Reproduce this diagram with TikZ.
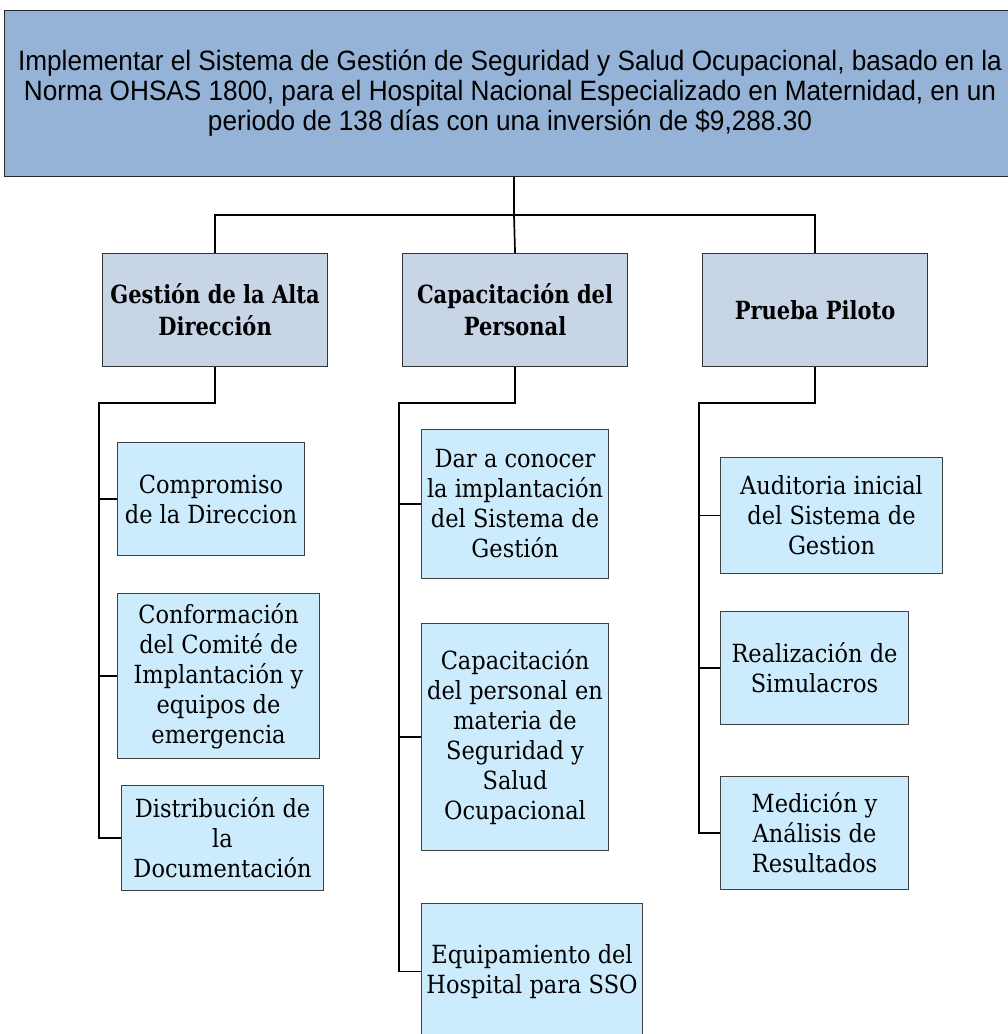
\documentclass[tikz,border=0pt]{standalone}
\usepackage{fontspec}
\setmainfont{DejaVu Serif}
\newfontfamily\titlefont[FakeStretch=0.935]{Liberation Sans}
\newfontfamily\headfont[FakeStretch=0.84]{DejaVu Serif}
\newfontfamily\leaffont[FakeStretch=0.9]{DejaVu Serif}
\definecolor{topblue}{HTML}{95B3D7}
\definecolor{headblue}{HTML}{C8D5E6}
\definecolor{leafblue}{HTML}{CCEBFD}
\begin{document}
\begin{tikzpicture}[x=1pt,y=-1pt,
  topbox/.style={draw=black!85, fill=topblue, line width=1.1pt, inner sep=0pt, align=center,
    font=\titlefont\fontsize{28}{30}\selectfont},
  headbox/.style={draw=black!80, fill=headblue, line width=1.1pt, inner sep=0pt, align=center,
    font=\headfont\bfseries\fontsize{25}{32}\selectfont},
  leafbox/.style={draw=black!75, fill=leafblue, line width=1.1pt, inner sep=0pt, align=center,
    font=\leaffont\fontsize{25}{30}\selectfont},
  link/.style={line width=1.7pt, black}]
\useasboundingbox (0,0) rectangle (1008,1034);
\clip (0,0) rectangle (1008,1034);

% goal
\node[topbox, anchor=north west, minimum width=1022pt, minimum height=166pt] (goal) at (4,10) {};
\node[font=\titlefont\fontsize{28}{30}\selectfont, align=center, inner sep=0pt] (goaltext) at (510,93)
  {Implementar el Sistema de Gestión de Seguridad y Salud Ocupacional, basado en la\\
   Norma OHSAS 1800, para el Hospital Nacional Especializado en Maternidad, en un\\
   periodo de 138 días con una inversión de \$9,288.30};

% main components
\node[headbox, anchor=north west, minimum width=225pt, minimum height=113pt] (g1) at (102,253)
  {Gestión de la Alta\\Dirección};
\node[headbox, anchor=north west, minimum width=225pt, minimum height=113pt] (g2) at (402,253)
  {Capacitación del\\Personal};
\node[headbox, anchor=north west, minimum width=225pt, minimum height=113pt] (g3) at (702,253)
  {Prueba Piloto};

% activities of component 1
\node[leafbox, anchor=north west, minimum width=187pt, minimum height=113pt] (c11) at (117,442)
  {Compromiso\\de la Direccion};
\node[leafbox, anchor=north west, minimum width=202pt, minimum height=165pt] (c12) at (117,593)
  {Conformación\\del Comité de\\Implantación y\\equipos de\\emergencia};
\node[leafbox, anchor=north west, minimum width=202pt, minimum height=105pt] (c13) at (121,785)
  {Distribución de\\la\\Documentación};

% activities of component 2
\node[leafbox, anchor=north west, minimum width=187pt, minimum height=149pt] (c21) at (421,429)
  {Dar a conocer\\la implantación\\del Sistema de\\Gestión};
\node[leafbox, anchor=north west, minimum width=187pt, minimum height=227pt] (c22) at (421,623)
  {Capacitación\\del personal en\\materia de\\Seguridad y\\Salud\\Ocupacional};
\node[leafbox, anchor=north west, minimum width=221pt, minimum height=136pt] (c23) at (421,903)
  {Equipamiento del\\Hospital para SSO};

% activities of component 3
\node[leafbox, anchor=north west, minimum width=222pt, minimum height=116pt] (c31) at (720,457)
  {Auditoria inicial\\del Sistema de\\Gestion};
\node[leafbox, anchor=north west, minimum width=188pt, minimum height=113pt] (c32) at (720,611)
  {Realización de\\Simulacros};
\node[leafbox, anchor=north west, minimum width=188pt, minimum height=113pt] (c33) at (720,776)
  {Medición y\\Análisis de\\Resultados};

% goal to components
\coordinate (j) at (514,215);
\draw[link] (goal.south -| j) -- (j);
\draw[link] (g1.north) |- (j) -| (g3.north);
\draw[link] (j) -- (g2.north);

% component 1 bus
\coordinate (k1) at (99,403);
\draw[link] (g1.south) |- (k1) |- (c13.west);
\draw[link] (c11.west) -- (c11.west -| k1);
\draw[link] (c12.west) -- (c12.west -| k1);

% component 2 bus
\coordinate (k2) at (399,403);
\draw[link] (g2.south) |- (k2) |- (c23.west);
\draw[link] (c21.west) -- (c21.west -| k2);
\draw[link] (c22.west) -- (c22.west -| k2);

% component 3 bus
\coordinate (k3) at (699,403);
\draw[link] (g3.south) |- (k3) |- (c33.west);
\draw[link] (c31.west) -- (c31.west -| k3);
\draw[link] (c32.west) -- (c32.west -| k3);
\end{tikzpicture}
\end{document}
